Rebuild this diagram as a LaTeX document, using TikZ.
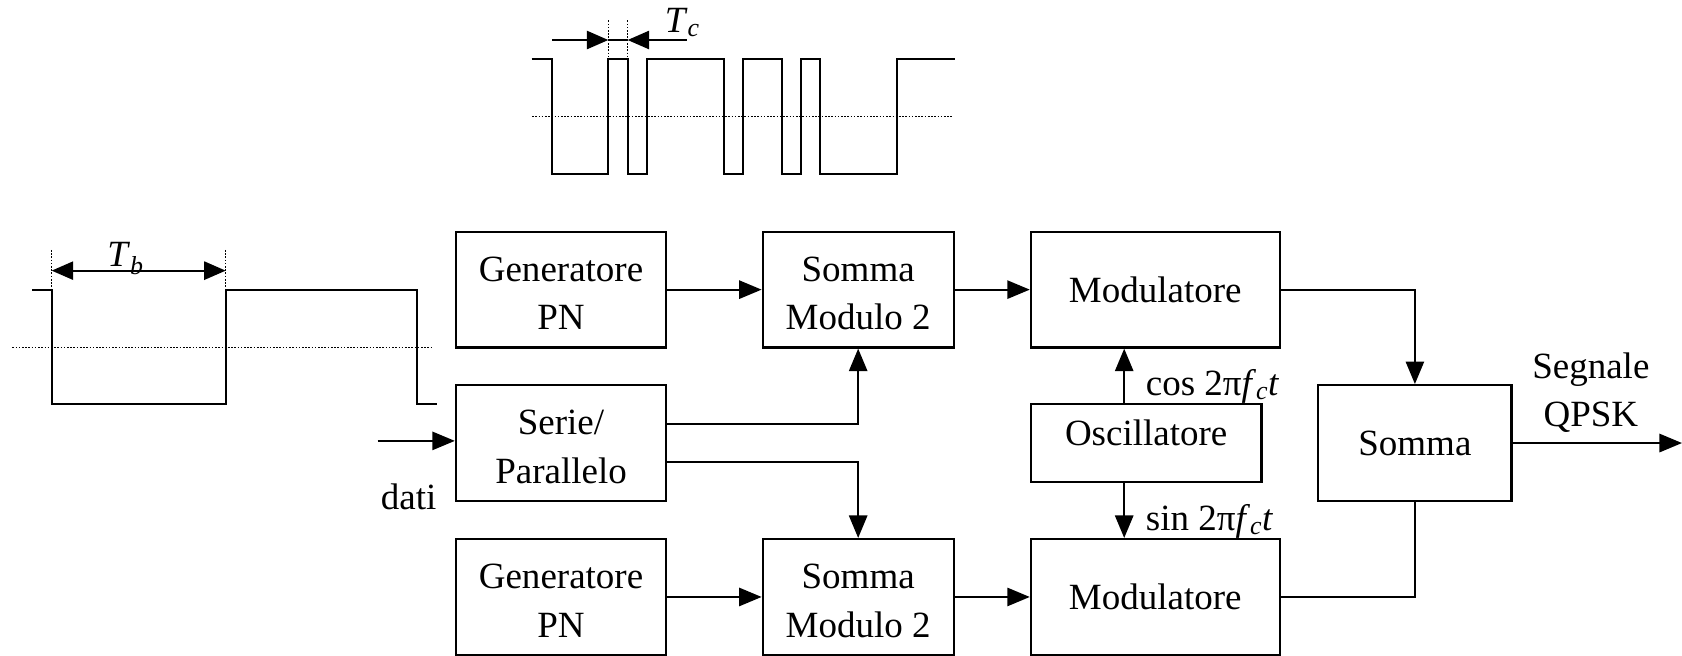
\documentclass[tikz,border=0pt]{standalone}
\usepackage{fontspec}
\setmainfont{Liberation Serif}
\usetikzlibrary{arrows.meta}
\newcommand{\bt}[2][-6pt]{\raisebox{#1}[\height][\depth]{\begin{tabular}{@{}c@{}}#2\end{tabular}}}
\begin{document}
\begin{tikzpicture}[x=1pt,y=-1pt,
  txt/.style={font=\fontsize{34.5}{45}\selectfont,inner sep=0pt},
  blk/.style={txt,draw,line width=2pt,minimum width=#1,minimum height=108pt},
  blk/.default=196pt,
  conn/.style={line width=2pt},
  arr/.style={conn,-{Triangle[length=21pt,width=17pt]}},
  dimarr/.style={line width=1.7pt,-{Triangle[length=20pt,width=17pt]}},
  wave/.style={line width=2pt,line join=miter},
  dotln/.style={line width=1.2pt,dash pattern=on 1.5pt off 1.5pt}]
\useasboundingbox (0,0) rectangle (1568,611);

% blocks
\node[blk] (gen1) at (523,270) {\bt{Generatore\\PN}};
\node[blk=178pt] (sm1) at (800,270) {\bt{Somma\\Modulo 2}};
\node[blk=232pt] (mod1) at (1077,270) {\bt[-3pt]{Modulatore}};
\node[blk] (sp) at (523,413) {\bt{Serie/\\Parallelo}};
\node[blk=215pt,minimum height=72pt] (osc) at (1068.5,413) {\bt[7pt]{Oscillatore}};
\node[blk=180pt] (som) at (1319,413) {\bt[-3pt]{Somma}};
\node[blk] (gen2) at (523,556.5) {\bt{Generatore\\PN}};
\node[blk=178pt] (sm2) at (800,556.5) {\bt{Somma\\Modulo 2}};
\node[blk=232pt] (mod2) at (1077,556.5) {\bt[-3pt]{Modulatore}};

% labels
\node[txt] (dati) at (381,463) {dati};
\node[txt] (qpsk) at (1483,366) {\bt[0pt]{Segnale\\QPSK}};
\node[txt,anchor=west] (cosl) at (1068,360) {cos 2π\textit{f}\textsubscript{\textit{c}}\textit{t}};
\node[txt,anchor=west] (sinl) at (1068,486) {sin 2π\textit{f}\textsubscript{\textit{c}}\textit{t}};
\node[txt] (tb) at (117,241) {\textit{T}\textsubscript{\textit{b}}};
\node[txt] (tc) at (636,21) {\textit{T}\textsubscript{\textit{c}}};

% coordinates
\coordinate (din) at (352,411);
\coordinate (out) at (1568,413);

% connectors
\draw[arr] (din) -- (din -| sp.west);
\draw[arr] (gen1) -- (sm1);
\draw[arr] (sm1) -- (mod1);
\draw[arr] (gen2) -- (sm2);
\draw[arr] (sm2) -- (mod2);
\draw[arr] (sp.east |- 0,395) -| (sm1.south);
\draw[arr] (sp.east |- 0,431) -| (sm2.north);
\draw[arr] (osc.north -| 1048,0) -- (mod1.south -| 1048,0);
\draw[arr] (osc.south -| 1048,0) -- (mod2.north -| 1048,0);
\draw[arr] (mod1.east) -| (som.north);
\draw[conn] (mod2.east) -| (som.south);
\draw[arr] (som.east) -- (out);

% top waveform (PN chips)
\draw[dotln] (496,108.8) -- (888,108.8);
\draw[wave] (495.6,55.3) -- (514.3,55.3) -- (514.3,162.2) -- (567.1,162.2) -- (567.1,55.3)
  -- (585.1,55.3) -- (585.1,162.2) -- (602.8,162.2) -- (602.8,55.3) -- (674.9,55.3)
  -- (674.9,162.2) -- (693,162.2) -- (693,55.3) -- (728.7,55.3) -- (728.7,162.2)
  -- (746.7,162.2) -- (746.7,55.3) -- (764.4,55.3) -- (764.4,162.2) -- (835.9,162.2)
  -- (835.9,55.3) -- (890.3,55.3);
\coordinate (tc1) at (567.1,37.3);
\coordinate (tc2) at (585.1,37.3);
\draw[dotln] (567.1,19) -- (567.1,70);
\draw[dotln] (585.1,19) -- (585.1,56);
\draw[dimarr] (515,37.3) -- (tc1);
\draw[dimarr] (640,37.3) -- (tc2);
\draw[line width=1.7pt] (tc1) -- (tc2);

% left waveform (data bits)
\draw[dotln] (11.5,323.8) -- (404,323.8);
\draw[wave] (30.1,270.3) -- (48.2,270.3) -- (48.2,376.6) -- (210.4,376.6) -- (210.4,270.3)
  -- (388.4,270.3) -- (388.4,376.6) -- (407.1,376.6);
\coordinate (tb1) at (48.2,252.3);
\coordinate (tb2) at (210.4,252.3);
\draw[dotln] (48.2,233) -- (48.2,270);
\draw[dotln] (210.4,233) -- (210.4,270);
\draw[dimarr,{Triangle[length=20pt,width=17pt]}-{Triangle[length=20pt,width=17pt]}] (tb1) -- (tb2);
\end{tikzpicture}
\end{document}
